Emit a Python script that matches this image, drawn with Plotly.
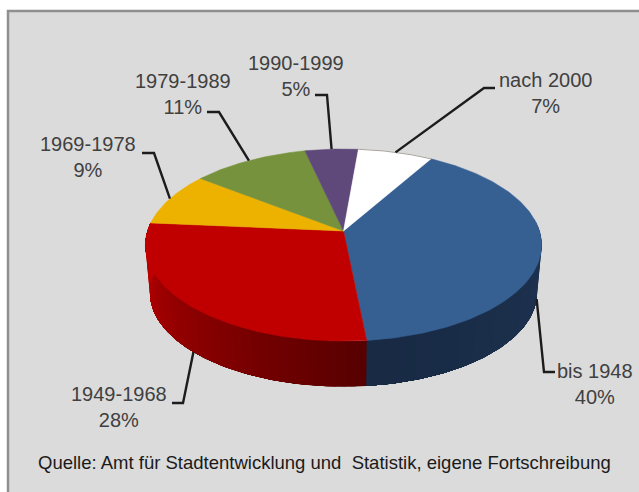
import math
import plotly.graph_objects as go

# ---- data ----
categories = ["bis 1948", "1949-1968", "1969-1978", "1979-1989", "1990-1999", "nach 2000"]
values = [40, 28, 9, 11, 5, 7]

# ---- style ----
top_colors = ["#366092", "#C00000", "#EDB100", "#76923C", "#5F497A", "#FFFFFF"]
wall_colors = {0: ((31, 53, 83), (24, 42, 68)), 1: ((88, 0, 0), (194, 0, 0))}
label_color = "#404040"

# ---- pie projection (pixel space of the axes) ----
CX, CY = 343.5, 231.0
A, B, Q = 196.0, 94.0, 0.146
DEPTH, BOTTOM_SCALE = 48.0, 0.977
START_DEG = 59.8  # first slice starts here, running clockwise


def project(deg, lower=False):
    s, c = math.sin(math.radians(deg)), math.cos(math.radians(deg))
    d = 1 + Q * s
    k = BOTTOM_SCALE if lower else 1.0
    return CX + k * A * c / d, CY + (DEPTH if lower else 0) - k * B * s / d


def spans():
    total = sum(values)
    out, t = [], START_DEG
    for v in values:
        out.append((t, t - 360.0 * v / total))
        t -= 360.0 * v / total
    return out


fig = go.Figure()
slices = spans()

# side wall: each band runs to the end of its slice and the next one paints over it,
# so no seams show between the colour steps
for i, grad in wall_colors.items():
    t0, t1 = slices[i]
    t0 = min(t0, 8.0)
    n = max(int(abs(t1 - t0) / 2.5), 2)
    order = range(n)
    for j in order:
        a = t0 + (t1 - t0) * j / n
        f = j / (n - 1)
        col = tuple(int(grad[0][k] + (grad[1][k] - grad[0][k]) * f) for k in range(3))
        m = max(int(abs(t1 - a)), 1)
        ts = [a + (t1 - a) * q / m for q in range(m + 1)]
        pts = [project(t) for t in ts] + [project(t, True) for t in reversed(ts)]
        pts.append(pts[0])
        fig.add_trace(go.Scatter(x=[p[0] for p in pts], y=[p[1] for p in pts], mode="lines",
                                 fill="toself", fillcolor="rgb%s" % (col,),
                                 line=dict(width=0), hoverinfo="skip"))

# top face
for (t0, t1), col, cat, val in zip(slices, top_colors, categories, values):
    n = max(int(abs(t1 - t0)), 2)
    arc = [project(t0 + (t1 - t0) * j / n) for j in range(n + 1)]
    pts = [(CX, CY)] + arc + [(CX, CY)]
    fig.add_trace(go.Scatter(x=[p[0] for p in pts], y=[p[1] for p in pts], mode="lines",
                             fill="toself", fillcolor=col, line=dict(color=col, width=0.5),
                             name=cat, text="%s: %d%%" % (cat, val), hoverinfo="text"))

# faint rim along the white slice
t0, t1 = slices[5]
arc = [project(t0 + (t1 - t0) * j / 30) for j in range(31)]
fig.add_trace(go.Scatter(x=[p[0] for p in arc], y=[p[1] for p in arc], mode="lines",
                         line=dict(color="#a9a49c", width=1), hoverinfo="skip"))

# ---- labels and leaders: (elbow end, elbow corner, text centre, on lower rim) ----
leader_layout = {
    "bis 1948": ((555, 372), (544, 372), (595, 384), True),
    "1949-1968": ((172, 403), (183, 403), (119, 407), True),
    "1969-1978": ((142, 153), (154, 153), (88, 157), False),
    "1979-1989": ((207, 112), (219, 112), (183, 94), False),
    "1990-1999": ((315, 95), (327, 95), (296, 76), False),
    "nach 2000": ((495, 88), (484, 88), (545, 93), False),
}

for (t0, t1), cat, val in zip(slices, categories, values):
    end, corner, centre, lower = leader_layout[cat]
    anchor = project((t0 + t1) / 2, lower)
    fig.add_trace(go.Scatter(x=[end[0], corner[0], anchor[0]], y=[end[1], corner[1], anchor[1]],
                             mode="lines", line=dict(color="#1c1c1c", width=2.4), hoverinfo="skip"))
    fig.add_annotation(x=centre[0], y=centre[1], xref="x", yref="y", showarrow=False,
                       text="%s<br>%d%%" % (cat, val), align="center",
                       font=dict(family="Liberation Sans", size=20, color=label_color))

fig.add_annotation(x=36, y=462, xref="x", yref="y", showarrow=False, xanchor="left",
                   text="Quelle: Amt für Stadtentwicklung und  Statistik, eigene Fortschreibung",
                   font=dict(family="Liberation Sans", size=18.5, color="#1a1a1a"))

fig.add_shape(type="rect", x0=8, y0=11, x1=700, y1=560, xref="x", yref="y", layer="below",
              fillcolor="#DBDBDB", line=dict(color="#8f8f8f", width=2.5))

fig.update_layout(width=639, height=492, autosize=False, showlegend=False,
                  margin=dict(l=0, r=0, t=0, b=0), paper_bgcolor="white", plot_bgcolor="white",
                  xaxis=dict(range=[0, 639], visible=False, fixedrange=True),
                  yaxis=dict(range=[492, 0], visible=False, fixedrange=True))

fig.write_html("out.html", post_script="document.body.style.margin='0';",
               config={"displayModeBar": False})
